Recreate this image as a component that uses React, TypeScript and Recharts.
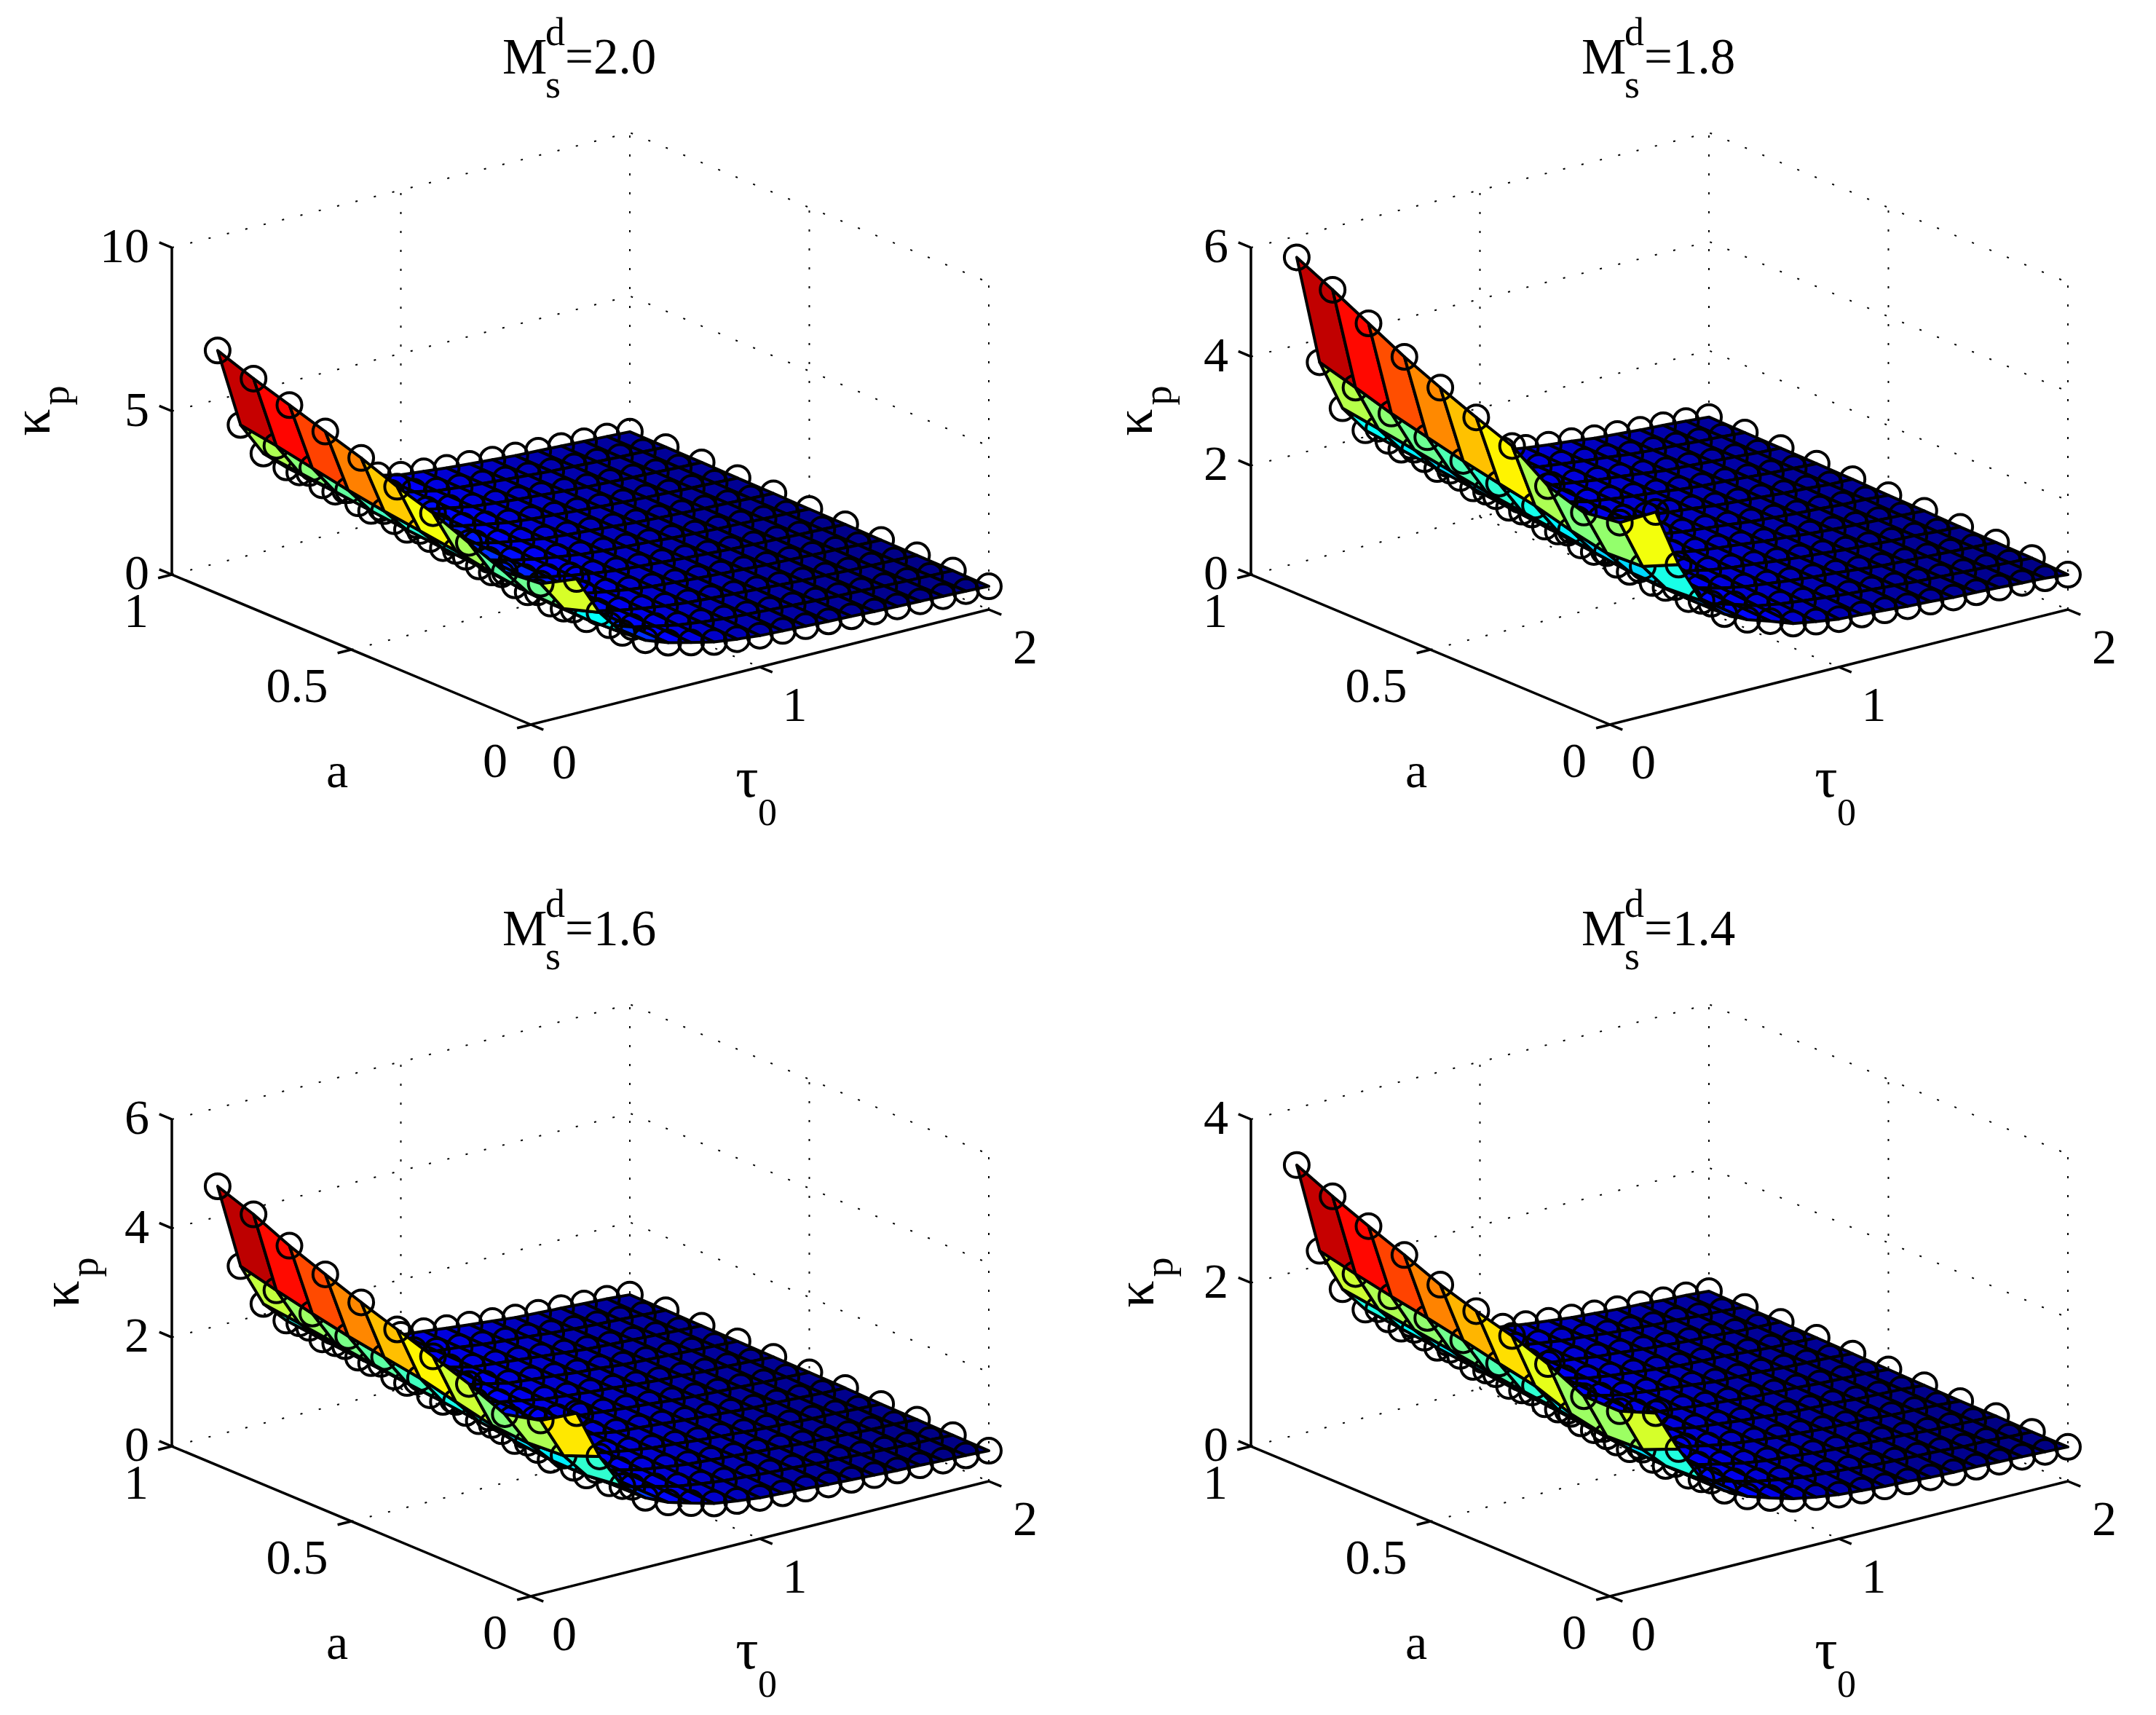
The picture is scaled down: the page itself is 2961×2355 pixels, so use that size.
import { Polygon, Scatter, ScatterChart, XAxis, YAxis } from 'recharts';

const tauValues = [0.2, 0.3, 0.4, 0.5, 0.6, 0.7, 0.8, 0.9, 1.0, 1.1, 1.2, 1.3, 1.4, 1.5, 1.6, 1.7, 1.8, 1.9, 2.0];
const aValues = [1, 0.9, 0.8, 0.7, 0.6, 0.5, 0.4, 0.3, 0.2, 0.1, 0];

// one row per tau value, entries run from a=1 down to a=0
const kappa20 = [
  [6.50, 6.10, 5.75, 5.40, 5.05, 4.63, 4.28, 3.83, 3.40, 3.50, 4.10],
  [4.05, 3.87, 3.65, 3.43, 3.25, 3.10, 2.95, 2.75, 2.60, 2.56, 2.90],
  [3.00, 2.88, 2.75, 2.62, 2.50, 2.40, 2.30, 2.18, 2.08, 2.06, 2.10],
  [2.40, 2.31, 2.22, 2.13, 2.04, 1.96, 1.88, 1.79, 1.72, 1.70, 1.70],
  [2.05, 1.98, 1.90, 1.83, 1.76, 1.69, 1.62, 1.56, 1.50, 1.47, 1.45],
  [1.80, 1.74, 1.68, 1.62, 1.56, 1.50, 1.45, 1.40, 1.35, 1.32, 1.28],
  [1.60, 1.55, 1.50, 1.46, 1.41, 1.36, 1.32, 1.28, 1.23, 1.18, 1.12],
  [1.45, 1.41, 1.37, 1.33, 1.29, 1.25, 1.21, 1.17, 1.13, 1.09, 1.03],
  [1.29, 1.26, 1.24, 1.21, 1.18, 1.15, 1.12, 1.09, 1.06, 1.02, 0.96],
  [1.22, 1.19, 1.17, 1.14, 1.12, 1.09, 1.07, 1.04, 1.01, 0.98, 0.93],
  [1.15, 1.13, 1.11, 1.09, 1.07, 1.04, 1.02, 0.99, 0.97, 0.94, 0.90],
  [1.10, 1.08, 1.06, 1.04, 1.02, 1.00, 0.97, 0.95, 0.93, 0.90, 0.87],
  [1.05, 1.03, 1.01, 0.99, 0.97, 0.95, 0.93, 0.91, 0.89, 0.87, 0.85],
  [1.00, 0.98, 0.96, 0.95, 0.93, 0.91, 0.89, 0.87, 0.85, 0.84, 0.82],
  [0.97, 0.95, 0.93, 0.92, 0.90, 0.88, 0.86, 0.85, 0.83, 0.82, 0.80],
  [0.94, 0.92, 0.90, 0.89, 0.87, 0.86, 0.84, 0.82, 0.80, 0.79, 0.78],
  [0.91, 0.89, 0.88, 0.86, 0.85, 0.83, 0.81, 0.80, 0.78, 0.77, 0.76],
  [0.88, 0.87, 0.85, 0.84, 0.82, 0.81, 0.79, 0.77, 0.76, 0.75, 0.74],
  [0.85, 0.84, 0.83, 0.81, 0.80, 0.78, 0.77, 0.75, 0.74, 0.73, 0.71],
];

const kappa18 = [
  [5.61, 5.29, 4.95, 4.61, 4.32, 4.05, 3.80, 3.34, 3.13, 3.22, 3.69],
  [3.58, 3.39, 3.19, 3.03, 2.87, 2.73, 2.60, 2.42, 2.28, 2.31, 2.62],
  [2.63, 2.53, 2.42, 2.31, 2.20, 2.11, 2.02, 1.92, 1.83, 1.81, 1.85],
  [2.12, 2.04, 1.96, 1.88, 1.80, 1.73, 1.66, 1.58, 1.52, 1.50, 1.50],
  [1.82, 1.76, 1.69, 1.63, 1.57, 1.51, 1.45, 1.39, 1.34, 1.31, 1.29],
  [1.62, 1.57, 1.51, 1.46, 1.40, 1.35, 1.31, 1.26, 1.22, 1.19, 1.16],
  [1.44, 1.40, 1.35, 1.31, 1.27, 1.22, 1.19, 1.15, 1.11, 1.06, 1.01],
  [1.32, 1.28, 1.25, 1.21, 1.17, 1.14, 1.10, 1.06, 1.03, 0.99, 0.94],
  [1.19, 1.16, 1.14, 1.11, 1.09, 1.06, 1.03, 1.00, 0.98, 0.94, 0.88],
  [1.12, 1.09, 1.08, 1.05, 1.03, 1.00, 0.98, 0.96, 0.93, 0.90, 0.86],
  [1.06, 1.04, 1.02, 1.00, 0.98, 0.96, 0.94, 0.91, 0.89, 0.86, 0.83],
  [1.01, 0.99, 0.98, 0.96, 0.94, 0.92, 0.89, 0.87, 0.86, 0.83, 0.80],
  [0.97, 0.95, 0.93, 0.91, 0.89, 0.87, 0.86, 0.84, 0.82, 0.80, 0.78],
  [0.92, 0.90, 0.88, 0.87, 0.86, 0.84, 0.82, 0.80, 0.78, 0.77, 0.75],
  [0.89, 0.87, 0.86, 0.85, 0.83, 0.81, 0.79, 0.78, 0.76, 0.75, 0.74],
  [0.86, 0.85, 0.83, 0.82, 0.80, 0.79, 0.77, 0.75, 0.74, 0.73, 0.72],
  [0.84, 0.82, 0.81, 0.79, 0.78, 0.76, 0.75, 0.74, 0.72, 0.71, 0.70],
  [0.81, 0.80, 0.78, 0.77, 0.75, 0.75, 0.73, 0.71, 0.70, 0.69, 0.68],
  [0.78, 0.77, 0.76, 0.75, 0.74, 0.72, 0.71, 0.69, 0.68, 0.67, 0.64],
];

const kappa16 = [
  [4.56, 4.32, 4.02, 3.77, 3.53, 3.31, 3.09, 2.86, 2.58, 2.74, 3.15],
  [2.99, 2.82, 2.67, 2.53, 2.42, 2.31, 2.15, 2.00, 1.95, 1.99, 2.25],
  [2.19, 2.11, 2.02, 1.93, 1.84, 1.77, 1.69, 1.60, 1.53, 1.52, 1.60],
  [1.78, 1.71, 1.65, 1.58, 1.51, 1.46, 1.40, 1.33, 1.28, 1.27, 1.28],
  [1.54, 1.48, 1.43, 1.38, 1.32, 1.27, 1.22, 1.17, 1.13, 1.10, 1.09],
  [1.37, 1.32, 1.28, 1.23, 1.19, 1.14, 1.10, 1.06, 1.03, 1.00, 0.97],
  [1.22, 1.18, 1.14, 1.11, 1.07, 1.03, 1.00, 0.97, 0.93, 0.90, 0.86],
  [1.12, 1.09, 1.05, 1.02, 0.99, 0.96, 0.93, 0.90, 0.87, 0.84, 0.80],
  [0.99, 0.97, 0.95, 0.93, 0.91, 0.89, 0.86, 0.84, 0.82, 0.79, 0.75],
  [0.95, 0.93, 0.91, 0.89, 0.87, 0.85, 0.83, 0.81, 0.79, 0.76, 0.73],
  [0.90, 0.88, 0.87, 0.85, 0.83, 0.81, 0.80, 0.77, 0.76, 0.73, 0.71],
  [0.86, 0.84, 0.83, 0.81, 0.80, 0.78, 0.76, 0.74, 0.73, 0.71, 0.68],
  [0.82, 0.81, 0.79, 0.78, 0.76, 0.74, 0.73, 0.71, 0.70, 0.68, 0.66],
  [0.78, 0.77, 0.75, 0.74, 0.73, 0.71, 0.70, 0.68, 0.67, 0.66, 0.64],
  [0.76, 0.74, 0.73, 0.72, 0.71, 0.69, 0.67, 0.66, 0.65, 0.64, 0.62],
  [0.74, 0.72, 0.71, 0.70, 0.68, 0.67, 0.66, 0.64, 0.63, 0.62, 0.61],
  [0.72, 0.70, 0.69, 0.68, 0.67, 0.65, 0.64, 0.63, 0.61, 0.60, 0.59],
  [0.70, 0.68, 0.67, 0.66, 0.65, 0.64, 0.62, 0.61, 0.60, 0.59, 0.58],
  [0.67, 0.66, 0.65, 0.64, 0.63, 0.62, 0.61, 0.59, 0.58, 0.57, 0.56],
];

const kappa14 = [
  [3.30, 3.10, 2.92, 2.75, 2.57, 2.43, 2.31, 2.15, 1.94, 1.94, 2.10],
  [2.18, 2.08, 1.99, 1.91, 1.82, 1.72, 1.63, 1.47, 1.38, 1.40, 1.59],
  [1.64, 1.58, 1.51, 1.45, 1.38, 1.32, 1.27, 1.20, 1.15, 1.13, 1.15],
  [1.32, 1.27, 1.22, 1.17, 1.12, 1.08, 1.03, 0.98, 0.95, 0.94, 0.94],
  [1.13, 1.09, 1.05, 1.01, 0.97, 0.93, 0.89, 0.86, 0.83, 0.81, 0.80],
  [1.00, 0.96, 0.93, 0.90, 0.86, 0.83, 0.80, 0.77, 0.75, 0.73, 0.71],
  [0.90, 0.87, 0.84, 0.82, 0.79, 0.76, 0.74, 0.72, 0.69, 0.66, 0.63],
  [0.81, 0.79, 0.77, 0.75, 0.72, 0.70, 0.68, 0.66, 0.63, 0.61, 0.58],
  [0.72, 0.71, 0.69, 0.68, 0.66, 0.64, 0.63, 0.61, 0.59, 0.57, 0.54],
  [0.69, 0.67, 0.66, 0.64, 0.63, 0.61, 0.60, 0.58, 0.57, 0.55, 0.52],
  [0.65, 0.63, 0.62, 0.61, 0.60, 0.58, 0.57, 0.55, 0.54, 0.53, 0.50],
  [0.62, 0.61, 0.60, 0.58, 0.57, 0.56, 0.55, 0.53, 0.52, 0.50, 0.49],
  [0.59, 0.58, 0.57, 0.55, 0.54, 0.53, 0.52, 0.51, 0.50, 0.49, 0.47],
  [0.57, 0.56, 0.55, 0.54, 0.53, 0.52, 0.51, 0.50, 0.49, 0.48, 0.46],
  [0.55, 0.54, 0.53, 0.53, 0.52, 0.51, 0.50, 0.49, 0.48, 0.47, 0.46],
  [0.54, 0.53, 0.52, 0.51, 0.50, 0.49, 0.48, 0.47, 0.46, 0.45, 0.45],
  [0.52, 0.51, 0.50, 0.49, 0.49, 0.48, 0.47, 0.46, 0.45, 0.45, 0.44],
  [0.51, 0.50, 0.49, 0.48, 0.48, 0.47, 0.46, 0.45, 0.44, 0.43, 0.43],
  [0.49, 0.48, 0.48, 0.47, 0.46, 0.45, 0.44, 0.43, 0.43, 0.42, 0.42],
];

const tauTicks = [0, 1, 2];
const aTicks = [0, 0.5, 1];

const panels = [
  { title: '2.0', kappa: kappa20, zMax: 10, zTicks: [0, 5, 10], left: 0, top: 0, yLabelX: 44 },
  { title: '1.8', kappa: kappa18, zMax: 6, zTicks: [0, 2, 4, 6], left: 1482, top: 0, yLabelX: 76 },
  { title: '1.6', kappa: kappa16, zMax: 6, zTicks: [0, 2, 4, 6], left: 0, top: 1197, yLabelX: 84 },
  { title: '1.4', kappa: kappa14, zMax: 4, zTicks: [0, 2, 4], left: 1482, top: 1197, yLabelX: 78 },
];

const WIDTH = 1479;
const HEIGHT = 1158;
const FONT = '"Liberation Serif", serif';

// same view for every panel, the box is 629x158 along tau, 493x206 along a, 449 tall
function project(tau: number, a: number, z: number, zMax: number) {
  return {
    x: 729 + (tau / 2) * 629 - a * 493,
    y: 995 - (tau / 2) * 158 - a * 206 - (z / zMax) * 449,
  };
}

// MATLAB jet
function jet(t: number) {
  const c = (v: number) => Math.round(255 * Math.max(0, Math.min(1, 1.5 - Math.abs(4 * t - v))));
  return `rgb(${c(3)},${c(2)},${c(1)})`;
}

// quads and markers in one back-to-front list, so nearer cells cover what is behind them
function buildSurface(kappa: number[][], zMax: number) {
  const flat = kappa.flat();
  const lo = Math.min(...flat);
  const hi = Math.max(...flat);
  const at = (i: number, j: number) => project(tauValues[i], aValues[j], kappa[i][j], zMax);
  const items: any[] = [];
  tauValues.forEach((_, i) => {
    aValues.forEach((_, j) => {
      const depth = i + 10 - j;
      const p = at(i, j);
      items.push({ ...p, kind: 'marker', depth: depth - 0.1 });
      if (i < tauValues.length - 1 && j < aValues.length - 1) {
        const pts = [at(i, j), at(i + 1, j), at(i + 1, j + 1), at(i, j + 1)];
        const x = pts.reduce((s, q) => s + q.x, 0) / 4;
        const y = pts.reduce((s, q) => s + q.y, 0) / 4;
        items.push({
          x, y, kind: 'cell', depth,
          fill: jet((kappa[i][j + 1] - lo) / (hi - lo)),
          offsets: pts.map(q => ({ x: q.x - x, y: q.y - y })),
        });
      }
    });
  });
  return items.sort((a, b) => b.depth - a.depth);
}

function SurfaceMark(props: any) {
  const { cx, cy, payload } = props;
  if (payload.kind === 'marker') {
    return <circle cx={cx} cy={cy} r={17} fill="none" stroke="#000" strokeWidth={4} />;
  }
  const points = payload.offsets.map((o: any) => ({ x: cx + o.x, y: cy + o.y }));
  return <Polygon points={points} fill={payload.fill} stroke="#000" strokeWidth={4} strokeLinejoin="round" />;
}

function TextMark(props: any) {
  const { cx, cy, payload } = props;
  return (
    <text x={cx} y={cy} textAnchor={payload.anchor} fontFamily={FONT} fontSize={payload.size ?? 68} fill="#000"
      transform={payload.rotate ? `rotate(-90 ${cx} ${cy})` : undefined}>
      {payload.text}
    </text>
  );
}

const noMark = () => <g />;

function buildGrid(zMax: number, zTicks: number[]) {
  const lines: { x: number; y: number }[][] = [];
  const P = (t: number, a: number, z: number) => project(t, a, z, zMax);
  zTicks.forEach(z => lines.push([P(0, 1, z), P(2, 1, z), P(2, 0, z)]));
  lines.push([P(1, 1, 0), P(1, 1, zMax)], [P(2, 1, 0), P(2, 1, zMax)]);
  lines.push([P(2, 0.5, 0), P(2, 0.5, zMax)], [P(2, 0, 0), P(2, 0, zMax)]);
  lines.push([P(1, 1, 0), P(1, 0, 0)], [P(0, 0.5, 0), P(2, 0.5, 0)]);
  return lines;
}

function buildAxes(zMax: number, zTicks: number[]) {
  const P = (t: number, a: number, z: number) => project(t, a, z, zMax);
  const lines = [
    [P(0, 1, zMax), P(0, 1, 0), P(0, 0, 0), P(2, 0, 0)],
  ];
  zTicks.forEach(z => lines.push([P(0, 1, z), P(0, 1.035, z)]));
  aTicks.forEach(a => lines.push([P(0, a, 0), P(-0.06, a, 0)]));
  tauTicks.forEach(t => lines.push([P(t, 0, 0), P(t, -0.035, 0)]));
  return lines;
}

function buildLabels(p: (typeof panels)[number]) {
  const P = (t: number, a: number, z: number) => project(t, a, z, p.zMax);
  const labels: any[] = [];
  p.zTicks.forEach(z => {
    const q = P(0, 1, z);
    labels.push({ x: q.x - 31, y: q.y + 20, text: String(z), anchor: 'end' });
  });
  aTicks.forEach(a => {
    const q = P(0, a, 0);
    labels.push({ x: q.x - 32, y: q.y + 72, text: String(a), anchor: 'end' });
  });
  tauTicks.forEach(t => {
    const q = P(t, 0, 0);
    labels.push({ x: q.x + 46 + t * 2, y: q.y + 74, text: String(t), anchor: 'middle' });
  });
  labels.push({ x: 463, y: 1081, text: 'a', anchor: 'middle' });
  labels.push({ x: 1026, y: 1094, text: 'τ', anchor: 'middle', size: 78 });
  labels.push({ x: 1054, y: 1133, text: '0', anchor: 'middle', size: 52 });
  labels.push({ x: p.yLabelX + 24, y: 580, text: 'κ', anchor: 'middle', rotate: true, size: 74 });
  labels.push({ x: p.yLabelX + 50, y: 543, text: 'p', anchor: 'middle', rotate: true, size: 54 });
  labels.push({ x: 690, y: 101, text: 'M', anchor: 'start', size: 69 });
  labels.push({ x: 749, y: 62, text: 'd', anchor: 'start', size: 54 });
  labels.push({ x: 749, y: 134, text: 's', anchor: 'start', size: 54 });
  labels.push({ x: 776, y: 101, text: `=${p.title}`, anchor: 'start', size: 69 });
  return labels;
}

function Panel({ panel }: { panel: (typeof panels)[number] }) {
  const surface = buildSurface(panel.kappa, panel.zMax);
  const grid = buildGrid(panel.zMax, panel.zTicks);
  const axes = buildAxes(panel.zMax, panel.zTicks);
  const labels = buildLabels(panel);
  return (
    <div style={{ position: 'absolute', left: panel.left, top: panel.top }}>
      <ScatterChart width={WIDTH} height={HEIGHT} margin={{ top: 0, right: 0, bottom: 0, left: 0 }}>
        <XAxis type="number" dataKey="x" domain={[0, WIDTH]} hide />
        <YAxis type="number" dataKey="y" domain={[0, HEIGHT]} reversed hide />
        {grid.map((d, i) => (
          <Scatter key={`g${i}`} data={d} shape={noMark} isAnimationActive={false}
            line={{ stroke: '#000', strokeWidth: 2, strokeDasharray: '3 23' }} />
        ))}
        {axes.map((d, i) => (
          <Scatter key={`a${i}`} data={d} shape={noMark} isAnimationActive={false}
            line={{ stroke: '#000', strokeWidth: 3.5 }} />
        ))}
        <Scatter data={surface} shape={SurfaceMark} isAnimationActive={false} />
        <Scatter data={labels} shape={TextMark} isAnimationActive={false} />
      </ScatterChart>
    </div>
  );
}

export default function App() {
  return (
    <div style={{ position: 'absolute', left: 0, top: 0, width: 2961, height: 2355, background: '#fff' }}>
      {panels.map(p => <Panel key={p.title} panel={p} />)}
    </div>
  );
}
